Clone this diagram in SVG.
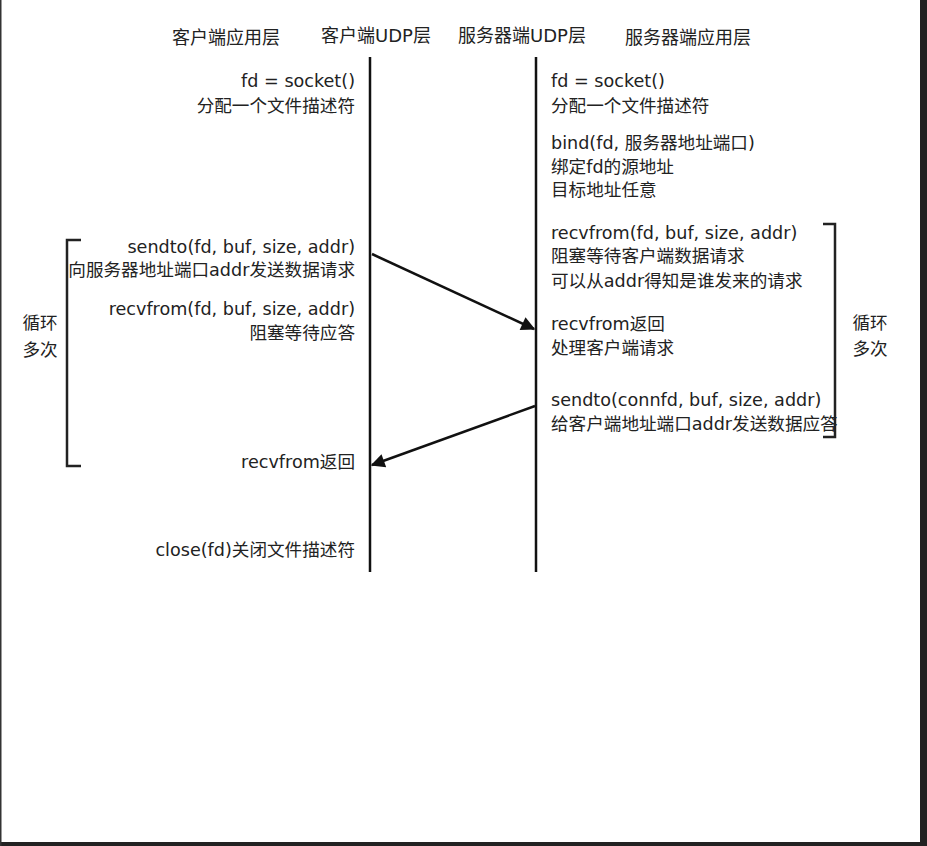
<svg xmlns="http://www.w3.org/2000/svg" width="927" height="846" viewBox="0 0 927 846">
<style>
text{font-family:"DejaVu Sans","Noto Sans CJK SC",sans-serif;font-size:17.6px;fill:#222}
.h{font-size:18px}
.e{text-anchor:end}
.c{text-anchor:middle}
.ln{stroke:#111;stroke-width:2.5;fill:none}
.br{stroke:#222;stroke-width:2.5;fill:none}
</style>
<defs>
<marker id="ah2" viewBox="0 0 10 10" refX="9" refY="5" markerWidth="18" markerHeight="14" markerUnits="userSpaceOnUse" orient="auto"><path d="M0,0 L10,5 L0,10 z" fill="#111"/></marker>
</defs>
<rect x="0" y="0" width="927" height="846" fill="#fff"/>
<rect x="920" y="0" width="7" height="846" fill="#222"/>
<rect x="0" y="842" width="927" height="4" fill="#222"/>
<rect x="0" y="0" width="1.5" height="846" fill="#333"/>

<g id="headers">
<text class="h c" x="226" y="44">客户端应用层</text>
<text class="h c" x="376" y="42">客户端UDP层</text>
<text class="h c" x="522" y="42">服务器端UDP层</text>
<text class="h c" x="688" y="44">服务器端应用层</text>
</g>

<g id="lifelines">
<line class="ln" x1="370" y1="57" x2="370" y2="572"/>
<line class="ln" x1="536" y1="57" x2="536" y2="572"/>
</g>

<g id="client-app">
<text class="e" x="355" y="87">fd = socket()</text>
<text class="e" x="355" y="112">分配一个文件描述符</text>
<text class="e" x="355" y="253">sendto(fd, buf, size, addr)</text>
<text class="e" x="355" y="276">向服务器地址端口addr发送数据请求</text>
<text class="e" x="355" y="315">recvfrom(fd, buf, size, addr)</text>
<text class="e" x="355" y="339">阻塞等待应答</text>
<text class="e" x="355" y="468">recvfrom返回</text>
<text class="e" x="355" y="556">close(fd)关闭文件描述符</text>
</g>

<g id="server-app">
<text x="551" y="87">fd = socket()</text>
<text x="551" y="112">分配一个文件描述符</text>
<text x="551" y="149">bind(fd, 服务器地址端口)</text>
<text x="551" y="173">绑定fd的源地址</text>
<text x="551" y="196">目标地址任意</text>
<text x="551" y="239">recvfrom(fd, buf, size, addr)</text>
<text x="551" y="262">阻塞等待客户端数据请求</text>
<text x="551" y="287">可以从addr得知是谁发来的请求</text>
<text x="551" y="330">recvfrom返回</text>
<text x="551" y="354">处理客户端请求</text>
<text x="551" y="406">sendto(connfd, buf, size, addr)</text>
<text x="551" y="430">给客户端地址端口addr发送数据应答</text>
</g>

<g id="loop-left">
<path class="br" d="M81,240 H67 V466 H81"/>
<text class="c" x="40" y="329">循环</text>
<text class="c" x="40" y="356">多次</text>
</g>

<g id="loop-right">
<path class="br" d="M823,224 H835 V437 H823"/>
<text class="c" x="870" y="329">循环</text>
<text class="c" x="870" y="355">多次</text>
</g>

<g id="connectors">
<line class="ln" x1="372" y1="254" x2="534" y2="329" marker-end="url(#ah2)"/>
<line class="ln" x1="535" y1="406" x2="372" y2="465" marker-end="url(#ah2)"/>
</g>
</svg>
